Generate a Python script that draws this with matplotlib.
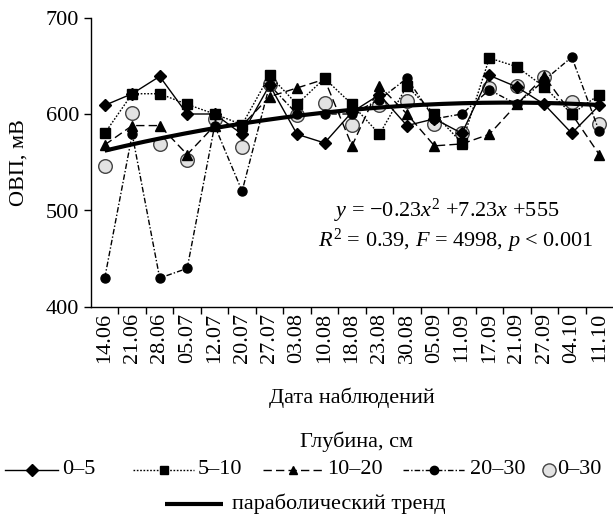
import matplotlib
matplotlib.use("Agg")
import matplotlib.pyplot as plt
from matplotlib.lines import Line2D
import numpy as np

plt.rcParams['font.family'] = ['Liberation Serif', 'DejaVu Serif']
plt.rcParams['mathtext.fontset'] = 'custom'
plt.rcParams['mathtext.rm'] = 'Liberation Serif'
plt.rcParams['mathtext.it'] = 'Liberation Serif:italic'

dates = ['14.06', '21.06', '28.06', '05.07', '12.07', '20.07', '27.07', '03.08', '10.08', '18.08',
         '23.08', '30.08', '05.09', '11.09', '17.09', '21.09', '27.09', '04.10', '11.10']
d0_5 = [609, 621, 639, 600, 600, 579, 630, 579, 570, 602, 620, 588, 595, 580, 640, 628, 610, 580, 609]
d5_10 = [580, 621, 621, 610, 600, 589, 640, 610, 637, 610, 579, 629, 600, 570, 658, 649, 628, 600, 620]
d10_20 = [568, 588, 588, 558, 588, 588, 618, 627, 636, 567, 629, 600, 567, 569, 579, 610, 639, 600, 558]
d20_30 = [430, 579, 430, 440, 588, 520, 630, 600, 600, 600, 615, 637, 595, 600, 625, 610, 635, 659, 582]
d0_30 = [546, 601, 569, 552, 595, 566, 631, 599, 611, 589, 609, 613, 590, 580, 627, 629, 638, 612, 590]
trend_coef = [-0.23, 7.23, 555]
legend_labels = ['0–5', '5–10', '10–20', '20–30', '0–30']

W, H = 613, 518
fig = plt.figure(figsize=(W / 100, H / 100), dpi=100)
ax = fig.add_axes([91 / W, 211 / H, (W - 91) / W, (500.5 - 211) / H])

x = np.arange(1, len(dates) + 1)
FS = 16

styles = [
    dict(linestyle='-', marker='D'),
    dict(linestyle=(0, (1.2, 1.2)), marker='s'),
    dict(linestyle=(0, (6, 3)), marker='^'),
    dict(linestyle=(0, (4, 1.5, 1, 1.5)), marker='o'),
]
gray = dict(linestyle='none', marker='o', markerfacecolor='#e2e2e2',
            markeredgecolor='#444444', markeredgewidth=1.0)

ax.plot(x, d0_30, markersize=9.8, zorder=2, **gray)
xt = np.linspace(1, len(dates), 200)
ax.plot(xt, np.polyval(trend_coef, xt), color='black', lw=3, zorder=3, solid_capstyle='butt')
for data, st in zip([d0_5, d5_10, d10_20, d20_30], styles):
    ax.plot(x, data, color='black', lw=1.0, markersize=6.5, zorder=4, **st)

ax.set_xlim(0.5, len(dates) + 0.5)
ax.set_ylim(400, 700)
ax.set_yticks([400, 500, 600, 700])
ax.set_xticks(x)
ax.set_xticklabels(dates, rotation=90, fontsize=FS)
ax.set_xticks(np.arange(1.5, len(dates), 1), minor=True)
ax.tick_params(axis='x', which='major', length=0, pad=4)
ax.tick_params(axis='x', which='minor', length=5, direction='out', width=1)
ax.tick_params(axis='y', labelsize=FS, length=5, direction='out', width=1)
for s in ['top', 'right']:
    ax.spines[s].set_visible(False)
for s in ['left', 'bottom']:
    ax.spines[s].set_linewidth(1)
ax.set_ylabel('ОВП, мВ', fontsize=FS)
ax.yaxis.set_label_coords(-0.119, 0.5)
ax.set_xlabel('Дата наблюдений', fontsize=FS, labelpad=18)

fig.text(447 / W, 1 - 211 / H, r'$y$ = −0.23$x^2$ +7.23$x$ +555', ha='center', va='center', fontsize=FS)
fig.text(456 / W, 1 - 241 / H, r'$R^2$ = 0.39, $F$ = 4998, $p$ < 0.001', ha='center', va='center', fontsize=FS)

# manual legend (figure pixel coordinates)
def fx(px):
    return px / W

def fy(py):
    return 1 - py / H

fig.text(fx(356), fy(442), 'Глубина, см', ha='center', va='center', fontsize=FS)
row_y = 470
handles_px = [(5, 58, 62), (133, 194, 198), (263, 322, 327), (403, 465, 470)]
for (x0, x1, tx), st, lab in zip(handles_px, styles, legend_labels[:4]):
    fig.add_artist(Line2D([fx(x0), fx(x1)], [fy(row_y), fy(row_y)], transform=fig.transFigure,
                          color='black', lw=1.0, linestyle=st['linestyle']))
    fig.add_artist(Line2D([fx((x0 + x1) / 2)], [fy(row_y)], transform=fig.transFigure,
                          color='black', linestyle='none', marker=st['marker'], markersize=6))
    fig.text(fx(tx), fy(row_y), lab, ha='left', va='center', fontsize=FS)
fig.add_artist(Line2D([fx(549)], [fy(row_y)], transform=fig.transFigure, markersize=9.5, **gray))
fig.text(fx(557), fy(row_y), legend_labels[4], ha='left', va='center', fontsize=FS)

fig.add_artist(Line2D([fx(165), fx(223)], [fy(504), fy(504)], transform=fig.transFigure,
                      color='black', lw=3, solid_capstyle='butt'))
fig.text(fx(232), fy(504), 'параболический тренд', ha='left', va='center', fontsize=FS)

fig.savefig('out.png', dpi=100)
